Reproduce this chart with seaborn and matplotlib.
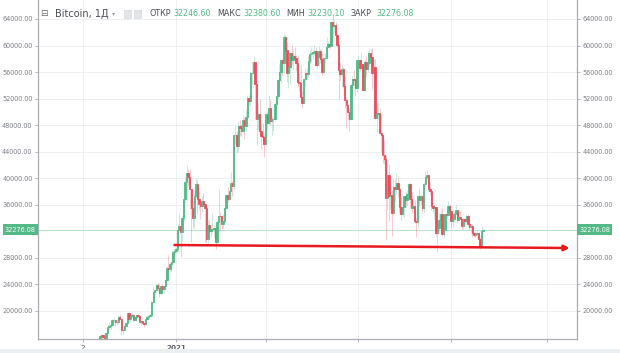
import matplotlib
matplotlib.use("Agg")
import matplotlib.pyplot as plt
import matplotlib.patches as mpatches
import numpy as np
import pandas as pd
import seaborn as sns

## DATOS: velas diarias de Bitcoin (12 nov 2020 -> 22 jul 2021)

fecha_inicio = "2020-11-12"
apertura_inicial = 15700

cierres_nov = [16290, 16330, 16070, 15960, 16720, 17640, 17800, 17820, 18620, 18680, 18370, 18360, 19160, 18720, 17150, 17140, 17720, 18180, 19630]
maximos_nov = [16480, 16480, 16330, 16140, 16800, 17850, 18390, 18110, 18770, 18940, 18700, 18750, 19390, 19480, 18900, 17450, 17850, 18330, 19740]
minimos_nov = [15790, 15950, 15860, 15880, 15900, 16570, 17240, 17360, 17750, 18400, 17670, 18020, 18030, 18630, 16380, 16520, 16930, 17540, 18210]

cierres_dic = [18800, 19200, 19440, 18700, 19150, 19360, 19170, 18320, 18550, 18250, 18030, 18800, 19140, 19250, 19430, 21310, 22800, 23140, 23870, 23480, 22740, 23820, 23240, 23730, 24710, 26490, 26280, 27080, 27360, 28840, 29000]
maximos_dic = [19860, 19300, 19550, 19510, 19180, 19400, 19380, 19290, 18630, 18530, 18260, 18930, 19380, 19340, 19550, 21560, 23770, 23250, 24100, 24260, 24080, 23840, 24020, 23780, 24790, 26720, 28380, 27390, 27410, 28990, 29300]
minimos_dic = [18330, 18330, 18900, 18600, 18560, 18940, 18930, 18220, 17950, 17950, 17600, 17940, 18730, 19000, 19050, 19300, 21270, 22360, 22800, 23080, 22180, 22400, 22970, 22740, 23450, 24540, 25980, 26050, 25920, 27360, 28000]

cierres_ene = [29370, 32130, 32780, 31970, 33990, 36820, 39370, 40800, 40250, 38350, 35540, 34010, 37390, 39150, 36830, 36070, 35820, 36630, 36070, 35550, 30830, 32990, 32070, 32290, 32370, 32570, 30430, 33470, 34320, 34270, 33110]
maximos_ene = [29600, 33160, 34780, 33440, 34410, 36880, 40180, 41950, 41380, 41360, 38350, 36630, 37770, 40010, 39750, 37920, 36790, 37300, 37800, 35970, 35620, 33830, 33650, 32800, 34800, 32960, 32570, 33780, 38410, 34890, 34380]
minimos_ene = [28800, 29090, 32050, 28130, 30320, 33510, 36490, 36740, 38860, 35400, 30420, 32530, 32580, 36990, 34610, 35410, 33850, 34870, 35870, 30330, 30280, 30080, 31980, 31230, 31950, 30950, 29300, 30050, 32020, 32210, 32400]

cierres_feb = [33540, 35510, 37470, 36930, 38150, 39230, 38830, 46450, 46490, 44920, 47910, 47500, 47110, 48720, 47940, 49200, 52150, 51680, 55890, 55920, 57490, 54210, 48880, 49710, 47090, 46340, 46190, 45140]
maximos_feb = [34650, 35840, 37660, 38620, 38300, 40960, 39650, 46620, 48090, 47180, 48630, 48800, 48110, 49600, 49030, 50460, 52530, 52500, 56230, 57480, 58350, 57530, 54180, 51310, 51950, 48290, 48310, 46530]
minimos_feb = [32310, 33460, 35440, 36380, 36680, 38150, 37390, 38220, 45140, 43800, 43990, 46320, 46330, 47030, 45910, 47170, 49030, 50990, 50870, 54270, 55520, 48970, 45060, 47210, 46800, 44460, 45050, 43200]

cierres_mar = [49630, 48380, 50540, 48560, 48930, 48910, 51210, 52380, 54880, 55960, 57800, 57330, 61240, 59300, 55900, 56800, 58870, 57860, 58350, 58090, 57350, 54530, 54350, 52300, 51320, 55030, 55860, 55780, 57630, 58730, 58920]
maximos_mar = [49790, 50120, 52540, 51740, 49440, 49190, 51430, 52400, 54900, 57220, 58010, 58040, 61700, 61590, 60570, 56880, 58970, 60040, 59430, 59850, 58550, 58360, 55840, 57060, 53220, 55080, 56570, 56560, 58360, 59370, 59740]
minimos_mar = [45120, 47220, 48100, 47960, 46520, 47170, 48950, 49770, 51960, 53370, 54490, 55480, 55830, 59160, 54560, 53620, 54220, 57110, 56510, 57860, 56190, 53690, 53100, 51750, 50600, 51480, 53970, 54950, 55250, 57170, 57350]

cierres_abr = [59000, 59230, 57100, 58210, 59110, 58040, 56010, 58080, 58100, 59770, 60200, 59890, 63500, 62970, 63110, 61530, 60060, 56280, 55720, 56470, 53910, 51760, 51090, 50050, 49000, 54020, 55030, 54820, 53560, 57750]
maximos_abr = [59470, 60070, 59850, 58510, 59860, 59410, 58890, 58230, 58890, 61220, 60690, 61200, 63740, 64860, 63800, 63560, 62040, 60300, 57480, 57050, 56760, 55370, 52110, 51200, 50550, 54310, 55380, 56370, 55160, 57900]
minimos_abr = [57940, 58610, 56920, 56580, 56990, 57440, 55580, 55890, 57320, 57950, 59770, 59520, 59900, 61300, 62040, 60260, 59820, 51790, 54690, 53700, 53670, 50620, 47500, 48980, 47050, 48790, 53320, 53900, 52350, 53070]

cierres_may = [57830, 56630, 57210, 53240, 57470, 56430, 57380, 58950, 58280, 55860, 56770, 49150, 49720, 49880, 46760, 46460, 43540, 42910, 36960, 40550, 37310, 37540, 34770, 38710, 38400, 39290, 38440, 35690, 34620, 35680, 37340]
maximos_may = [58450, 57990, 58980, 57020, 57940, 58360, 59210, 59460, 59530, 59600, 57900, 58000, 51330, 51440, 50650, 49720, 46580, 45800, 43550, 42460, 42170, 38830, 38220, 39850, 39750, 40780, 40410, 38860, 37230, 36400, 37490]
minimos_may = [57080, 56110, 56480, 53130, 52980, 55310, 55980, 56980, 56350, 53470, 54460, 48900, 46980, 48870, 46660, 43930, 42250, 42200, 30680, 35050, 33580, 35380, 31230, 34420, 36500, 37600, 37230, 34780, 33690, 34320, 34210]

cierres_jun = [36700, 37570, 39190, 36850, 35520, 35800, 33590, 33470, 37350, 36700, 37340, 35550, 39100, 40220, 40420, 38350, 38050, 35790, 35480, 35600, 31680, 32510, 33680, 34660, 31590, 32160, 34650, 34500, 35870, 35040]
maximos_jun = [37880, 38180, 39290, 39240, 37870, 36770, 36790, 34070, 37470, 38350, 37650, 37390, 39400, 41020, 41300, 40510, 39480, 38160, 36400, 36050, 35700, 33290, 34730, 35260, 35460, 32700, 34710, 35240, 36540, 36010]
minimos_jun = [35710, 35940, 37320, 35650, 34840, 35330, 33500, 31160, 32430, 35850, 35980, 34720, 34780, 38800, 39590, 38130, 37450, 35250, 34930, 33930, 31340, 28900, 31700, 32430, 31320, 31030, 32330, 33950, 34330, 34060]

cierres_jul = [33570, 33900, 34670, 35290, 33690, 34230, 33860, 32880, 33820, 33520, 34260, 33090, 32730, 32820, 31780, 31420, 31530, 31800, 30820, 29790, 32110, 32276.08]
maximos_jul = [35040, 33940, 34910, 35940, 35270, 35030, 35070, 33930, 34060, 34030, 34590, 34650, 33300, 33100, 33160, 31970, 31950, 32190, 31890, 31020, 32820, 32380.60]
minimos_jul = [32720, 32720, 33340, 34420, 33390, 33650, 33820, 32360, 32280, 33140, 33340, 32770, 32310, 31690, 31160, 31190, 31180, 31210, 30530, 29400, 29520, 32230.10]

# Cabecera (OHLC de la última vela)
simbolo = "Bitcoin, 1Д"
etiquetas_ohlc = ["ОТКР", "МАКС", "МИН", "ЗАКР"]
valores_ohlc = ["32246.60", "32380.60", "32230.10", "32276.08"]
precio_actual = 32276.08

# Línea de soporte (inicio / fin)
soporte_fechas = ["2020-12-31", "2021-09-17"]
soporte_valores = [29940, 29490]

# Ejes
ticks_y = [20000, 24000, 28000, 36000, 40000, 44000, 48000, 52000, 56000, 60000, 64000]
etiquetas_x = ["2", "2021", "", "", "", ""]

cierres = cierres_nov + cierres_dic + cierres_ene + cierres_feb + cierres_mar + cierres_abr + cierres_may + cierres_jun + cierres_jul
maximos = maximos_nov + maximos_dic + maximos_ene + maximos_feb + maximos_mar + maximos_abr + maximos_may + maximos_jun + maximos_jul
minimos = minimos_nov + minimos_dic + minimos_ene + minimos_feb + minimos_mar + minimos_abr + minimos_may + minimos_jun + minimos_jul
assert len(cierres) == len(maximos) == len(minimos), (len(cierres), len(maximos), len(minimos))

origen = pd.Timestamp("2021-01-01")
df = pd.DataFrame({
    "fecha": pd.date_range(fecha_inicio, periods=len(cierres), freq="D"),
    "cierre": cierres,
    "maximo": maximos,
    "minimo": minimos,
})
df["apertura"] = df["cierre"].shift(1).fillna(apertura_inicial)
df["dia"] = (df["fecha"] - origen).dt.days
df["sube"] = df["cierre"] >= df["apertura"]

VERDE = "#53b987"
ROJO = "#eb4d5c"
GRIS_TXT = "#7b7e86"

## FIGURA

sns.set_theme(style="whitegrid")
plt.rcParams["font.family"] = ["DejaVu Sans"]

fig = plt.figure(figsize=(6.2, 3.53), dpi=100)
fig.patch.set_facecolor("white")
ax = fig.add_axes([38 / 620, 1 - 339 / 353, (577 - 38) / 620, 339 / 353])
ax.set_facecolor("white")

# Mechas
colores = np.where(df["sube"], VERDE, ROJO)
ax.vlines(df["dia"], df["minimo"], df["maximo"], colors=colores, linewidth=0.6, alpha=0.35, zorder=2)

# Cuerpos
cuerpo_bajo = df[["apertura", "cierre"]].min(axis=1)
cuerpo_alto = df[["apertura", "cierre"]].max(axis=1)
ax.bar(df["dia"], cuerpo_alto - cuerpo_bajo, bottom=cuerpo_bajo, width=0.9,
       color=colores, edgecolor=colores, linewidth=0.6, zorder=3)

# Precio actual
ax.axhline(precio_actual, color="#b9e2cd", linewidth=0.8, zorder=1)

# Línea de soporte con flecha
dias_soporte = [(pd.Timestamp(f) - origen).days for f in soporte_fechas]
ax.annotate("", xy=(dias_soporte[1], soporte_valores[1]), xytext=(dias_soporte[0], soporte_valores[0]),
            arrowprops=dict(arrowstyle="-|>", color="#e8191f", lw=1.8, mutation_scale=8,
                            shrinkA=0, shrinkB=0), zorder=5)

# Escalas
ax.set_xlim(-90.8, 263.8)
ax.set_ylim(15778, 66863)
ax.set_xticks([-61.2, 0, 59.2, 119.7, 180.9, 244])
ax.set_xticklabels(etiquetas_x)
ax.get_xticklabels()[1].set_fontweight("bold")
ax.set_yticks(ticks_y)
ax.set_yticklabels([f"{v:.2f}" for v in ticks_y])
ax.yaxis.set_ticks_position("both")
ax.tick_params(axis="y", which="both", left=True, right=True, labelleft=True, labelright=True,
               length=2.5, width=0.6, color="#a9acb3", labelsize=4.7, labelcolor=GRIS_TXT, pad=1.5)
ax.tick_params(axis="x", bottom=True, length=2.5, width=0.6, color="#a9acb3",
               labelsize=5.2, labelcolor="#5d6068", pad=1.5)
ax.grid(True, color="#edf0f3", linewidth=0.7)
for lado in ["left", "right", "bottom"]:
    ax.spines[lado].set_color("#a9acb3")
    ax.spines[lado].set_linewidth(0.9)
ax.spines["top"].set_visible(False)

# Etiquetas del precio actual en ambos ejes
for xpos, ha in [(-0.004, "right"), (1.004, "left")]:
    ax.text(xpos, precio_actual, f"{precio_actual:.2f}", transform=ax.get_yaxis_transform(),
            ha=ha, va="center", fontsize=4.7, color="white", zorder=6, clip_on=False,
            bbox=dict(boxstyle="square,pad=0.35", facecolor=VERDE, edgecolor="none"))

# Cabecera
y_cab = 1 - 14 / 353
fig.text(40 / 620, y_cab, "⊟", fontsize=6.5, color="#6a6d75", va="center")
fig.text(55 / 620, y_cab, simbolo, fontsize=7, color="#4a4d55", va="center")
fig.text(112 / 620, y_cab, "▾", fontsize=4.5, color="#9a9da5", va="center")
for xi in [124, 134]:
    fig.patches.append(mpatches.Rectangle((xi / 620, y_cab - 3.5 / 353), 7 / 620, 7 / 353,
                                          transform=fig.transFigure, facecolor="#e3e5e9",
                                          edgecolor="#cfd2d8", linewidth=0.4))
x_etq = [149, 217, 286, 351]
x_val = [173, 243, 307, 376]
for etq, val, xe, xv in zip(etiquetas_ohlc, valores_ohlc, x_etq, x_val):
    fig.text(xe / 620, y_cab, etq, fontsize=5.8, color="#4a4d55", va="center")
    fig.text(xv / 620, y_cab, val, fontsize=5.7, color=VERDE, va="center")

# Franja gris inferior
fig.patches.append(mpatches.Rectangle((0, 0), 1, 4 / 353, transform=fig.transFigure,
                                      facecolor="#eceff2", edgecolor="none"))

fig.savefig("out.png", dpi=100)
